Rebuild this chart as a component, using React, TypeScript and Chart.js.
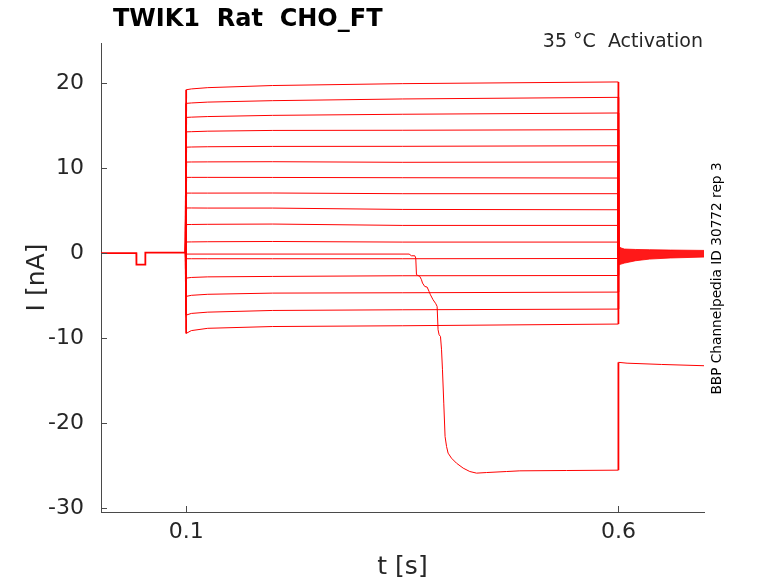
import { useEffect, useRef } from "react";
import { Chart, registerables } from "chart.js";

Chart.register(...registerables);

// ---- axis ticks ----
const xTicks = [0.1, 0.6];
const yTicks = [-30, -20, -10, 0, 10, 20];

// ---- holding segment shared by all sweeps (with short test pulse) ----
const holdTimes = [0.0015, 0.0424, 0.0425, 0.0527, 0.0528, 0.0995];
const holdCurrent = [-0.02, -0.02, -1.35, -1.35, 0.05, 0.05];

// ---- activation sweeps: sample times and current levels (nA) ----
const stepTimes = [0.0995, 0.1, 0.106, 0.125, 0.2, 0.35, 0.6, 0.6];
const stepHoldEnd = 0.05;
const stepTailStart = -0.3;
const sweepStart = [19.2, 17.6, 15.95, 14.25, 12.45, 10.7, 8.9, 7.05, 5.3, 3.35, 1.3, -0.67, -2.95, -5.1, -7.3, -9.45];
const sweepAt106 = [19.3, 17.65, 15.98, 14.27, 12.47, 10.71, 8.9, 7.05, 5.3, 3.36, 1.31, -0.67, -2.87, -4.97, -7.1, -9.12];
const sweepEarly = [19.45, 17.75, 16.05, 14.33, 12.5, 10.72, 8.9, 7.05, 5.29, 3.38, 1.33, -0.67, -2.8, -4.85, -6.95, -8.85];
const sweepAt200 = [19.7, 17.92, 16.19, 14.42, 12.54, 10.74, 8.89, 7.06, 5.29, 3.41, 1.36, -0.67, -2.75, -4.71, -6.75, -8.64];
const sweepAt350 = [19.92, 18.12, 16.32, 14.44, 12.55, 10.67, 8.86, 6.98, 5.13, 3.25, 1.29, -0.67, -2.67, -4.67, -6.67, -8.55];
const sweepEnd = [20.12, 18.31, 16.47, 14.51, 12.62, 10.71, 8.82, 6.98, 5.09, 3.25, 1.29, -0.64, -2.64, -4.59, -6.59, -8.35];

// ---- the sweep that breaks down ----
const dropTimes = [0.0995, 0.1, 0.3579, 0.3606, 0.3645, 0.3656, 0.3664, 0.3703, 0.3722, 0.3734, 0.376, 0.3787, 0.381, 0.3826, 0.3856, 0.3888, 0.3903, 0.3914, 0.3926, 0.3942, 0.3954, 0.3965, 0.398, 0.3995, 0.4012, 0.403, 0.4069, 0.4127, 0.4204, 0.4281, 0.4359, 0.4475, 0.4706, 0.486, 0.54, 0.6, 0.6, 0.61, 0.65, 0.699];
const dropCurrent = [0.05, -0.12, -0.12, -0.32, -0.32, -0.59, -2.55, -2.75, -3.14, -3.53, -3.93, -4.0, -4.52, -4.91, -5.49, -5.96, -6.28, -9.02, -9.61, -9.81, -11.38, -13.73, -17.65, -21.58, -22.75, -23.53, -24.12, -24.71, -25.29, -25.69, -25.88, -25.81, -25.69, -25.61, -25.57, -25.53, -12.85, -12.95, -13.1, -13.25];

// ---- tail-current oscillation envelope after the step ----
const tailTimes = [0.6, 0.603, 0.607, 0.62, 0.636, 0.66, 0.699];
const tailUpper = [0.8, 0.6, 0.47, 0.42, 0.39, 0.35, 0.31];
const tailLower = [-1.4, -1.3, -1.18, -0.9, -0.71, -0.58, -0.47];

const RED = "rgb(255,0,0)";
const AXIS = "#4a4a4a";
const TEXT = "#262626";
const FONT = "'DejaVu Sans', sans-serif";

// vertical (voltage-step) jumps are drawn by many overlapping sweeps -> heavier
const stepSegment = {
  borderWidth: (c: any) => (Math.abs(c.p1.parsed.x - c.p0.parsed.x) < 0.0006 ? 1.8 : 1),
};

export default function App() {
  const ref = useRef<HTMLCanvasElement | null>(null);

  useEffect(() => {
    if (!ref.current) return;

    const datasets: any[] = [];
    datasets.push({
      data: holdTimes.map((t, i) => ({ x: t, y: holdCurrent[i] })),
      borderColor: RED,
      borderWidth: 1.8,
    });
    sweepStart.forEach((_, k) => {
      const ys = [stepHoldEnd, sweepStart[k], sweepAt106[k], sweepEarly[k], sweepAt200[k], sweepAt350[k], sweepEnd[k], stepTailStart];
      datasets.push({
        data: stepTimes.map((t, i) => ({ x: t, y: ys[i] })),
        borderColor: RED,
        borderWidth: 1,
        segment: stepSegment,
      });
    });
    datasets.push({
      data: dropTimes.map((t, i) => ({ x: t, y: dropCurrent[i] })),
      borderColor: RED,
      borderWidth: 1,
      segment: stepSegment,
    });
    datasets.push({
      data: tailTimes.map((t, i) => ({ x: t, y: tailLower[i] })),
      borderColor: RED,
      borderWidth: 0.8,
      fill: false,
    });
    datasets.push({
      data: tailTimes.map((t, i) => ({ x: t, y: tailUpper[i] })),
      borderColor: RED,
      borderWidth: 0.8,
      backgroundColor: "rgba(255,0,0,0.9)",
      fill: "-1",
    });

    const decor = {
      id: "decor",
      afterDraw(chart: any) {
        const { ctx, chartArea, scales } = chart;
        ctx.save();
        // inward tick marks
        ctx.strokeStyle = AXIS;
        ctx.lineWidth = 1;
        ctx.beginPath();
        yTicks.forEach((v) => {
          const py = Math.round(scales.y.getPixelForValue(v)) + 0.5;
          ctx.moveTo(chartArea.left, py);
          ctx.lineTo(chartArea.left + 6, py);
        });
        xTicks.forEach((v) => {
          const px = Math.round(scales.x.getPixelForValue(v)) + 0.5;
          ctx.moveTo(px, chartArea.bottom);
          ctx.lineTo(px, chartArea.bottom - 6);
        });
        ctx.stroke();

        // title
        ctx.fillStyle = "#000";
        ctx.font = `bold 24px ${FONT}`;
        ctx.textAlign = "left";
        ctx.textBaseline = "alphabetic";
        ctx.fillText("TWIK1  Rat  CHO_FT", 113, 26);

        ctx.fillStyle = TEXT;
        ctx.font = `19px ${FONT}`;
        ctx.textAlign = "right";
        ctx.fillText("35 °C  Activation", 703, 47);

        // x axis label
        ctx.font = `25px ${FONT}`;
        ctx.textAlign = "center";
        ctx.fillText("t [s]", (chartArea.left + chartArea.right) / 2, 574);

        // y axis label
        ctx.save();
        ctx.translate(44, (chartArea.top + chartArea.bottom) / 2);
        ctx.rotate(-Math.PI / 2);
        ctx.fillText("I [nA]", 0, 0);
        ctx.restore();

        // right-side id text
        ctx.save();
        ctx.fillStyle = "#000";
        ctx.font = `13.7px ${FONT}`;
        ctx.translate(720.5, 278.5);
        ctx.rotate(-Math.PI / 2);
        ctx.textAlign = "center";
        ctx.fillText("BBP Channelpedia ID 30772 rep 3", 0, 0);
        ctx.restore();

        ctx.restore();
      },
    };

    const chart = new Chart(ref.current, {
      type: "line",
      data: { datasets },
      options: {
        animation: false,
        responsive: false,
        maintainAspectRatio: false,
        devicePixelRatio: 1,
        parsing: false as any,
        normalized: true,
        layout: { padding: { left: 0, top: 43, right: 74, bottom: 0 } },
        elements: { point: { radius: 0 }, line: { tension: 0 } },
        plugins: { legend: { display: false }, tooltip: { enabled: false }, title: { display: false } },
        scales: {
          x: {
            type: "linear",
            min: 0.0015,
            max: 0.699,
            grid: { display: false, drawTicks: false },
            border: { display: true, color: AXIS, width: 1 },
            ticks: {
              color: TEXT,
              font: { family: FONT, size: 22 },
              padding: 7,
              maxRotation: 0,
              callback: (v: any) => String(v),
            },
            afterBuildTicks: (s: any) => {
              s.ticks = xTicks.map((v) => ({ value: v }));
            },
            afterFit: (s: any) => {
              s.height = 71;
            },
          },
          y: {
            type: "linear",
            min: -30.45,
            max: 24.7,
            grid: { display: false, drawTicks: false },
            border: { display: true, color: AXIS, width: 1 },
            ticks: {
              color: TEXT,
              font: { family: FONT, size: 22 },
              padding: 17,
              callback: (v: any) => String(v),
            },
            afterBuildTicks: (s: any) => {
              s.ticks = yTicks.map((v) => ({ value: v }));
            },
            afterFit: (s: any) => {
              s.width = 101;
            },
          },
        },
      },
      plugins: [decor],
    });

    return () => chart.destroy();
  }, []);

  return (
    <div style={{ position: "fixed", left: 0, top: 0, width: 778, height: 583, background: "#fff" }}>
      <canvas ref={ref} width={778} height={583} style={{ width: 778, height: 583, display: "block" }} />
    </div>
  );
}
